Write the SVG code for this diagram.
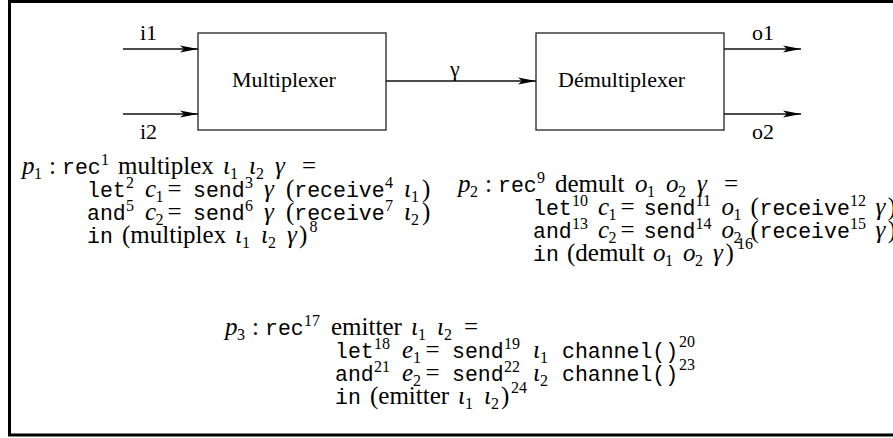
<svg xmlns="http://www.w3.org/2000/svg" width="893" height="438" viewBox="0 0 893 438">
  <style>
    .frame { fill: none; stroke: #000; stroke-width: 3; }
    .box { fill: #fff; stroke: #222; stroke-width: 1.3; }
    .wire { fill: none; stroke: #111; stroke-width: 1.3; }
    .lbl { font-family: 'Liberation Serif', 'DejaVu Serif', serif; font-size: 22px; fill: #000; }
    .rm { font-family: 'Liberation Serif', 'DejaVu Serif', serif; font-size: 25px; fill: #000; }
    .it { font-style: italic; }
    .tt { font-family: 'Liberation Mono', 'DejaVu Sans Mono', monospace; font-size: 21.5px; }
    .sc { font-size: 16px; }
  </style>
  <defs>
    <marker id="arrow" markerUnits="userSpaceOnUse" markerWidth="20" markerHeight="10" refX="18" refY="4" orient="auto">
      <path d="M0,0.5 L18,4 L0,7.5 L4,4 Z" fill="#000"/>
    </marker>
  </defs>

  <!-- outer frame (open on the right) -->
  <path class="frame" d="M893,1.5 H9.5 V435 H893"/>

  <!-- block diagram -->
  <g id="multiplexer">
    <rect class="box" x="198" y="33" width="188" height="97"/>
    <text class="lbl" x="232" y="87">Multiplexer</text>
  </g>
  <g id="demultiplexer">
    <rect class="box" x="536" y="33" width="188" height="97"/>
    <text class="lbl" x="558" y="87">Démultiplexer</text>
  </g>

  <g id="connectors">
    <line class="wire" x1="123" y1="49" x2="198" y2="49" marker-end="url(#arrow)"/>
    <line class="wire" x1="123" y1="114" x2="198" y2="114" marker-end="url(#arrow)"/>
    <line class="wire" x1="386" y1="81" x2="536" y2="81" marker-end="url(#arrow)"/>
    <line class="wire" x1="724" y1="49" x2="801" y2="49" marker-end="url(#arrow)"/>
    <line class="wire" x1="724" y1="114" x2="801" y2="114" marker-end="url(#arrow)"/>
    <text class="lbl" x="140" y="40">i1</text>
    <text class="lbl" x="140" y="139">i2</text>
    <text class="lbl" x="450" y="76">γ</text>
    <text class="lbl" x="752" y="40">o1</text>
    <text class="lbl" x="752" y="139">o2</text>
  </g>

  <!-- p1 : multiplex -->
  <g id="p1">
    <text class="rm"><tspan class="it" x="22" y="174">p</tspan><tspan class="sc" x="34" y="179">1</tspan><tspan x="49" y="174">:</tspan><tspan class="tt" x="62" y="174">rec</tspan><tspan class="sc" x="101" y="165">1</tspan><tspan x="118" y="174">multiplex</tspan><tspan class="it" x="223" y="174">ι</tspan><tspan class="sc" x="230" y="179">1</tspan><tspan class="it" x="249" y="174">ι</tspan><tspan class="sc" x="256" y="179">2</tspan><tspan class="it" x="275" y="174">γ</tspan><tspan x="302" y="174">=</tspan></text>
    <text class="rm"><tspan class="tt" x="87" y="197">let</tspan><tspan class="sc" x="126" y="188">2</tspan><tspan class="it" x="145" y="197">c</tspan><tspan class="sc" x="155.5" y="202">1</tspan><tspan x="167.5" y="197">=</tspan><tspan class="tt" x="193" y="197">send</tspan><tspan class="sc" x="245" y="188">3</tspan><tspan class="it" x="264" y="197">γ</tspan><tspan x="286" y="197">(</tspan><tspan class="tt" x="294.3" y="197">receive</tspan><tspan class="sc" x="385" y="188">4</tspan><tspan class="it" x="404" y="197">ι</tspan><tspan class="sc" x="411" y="202">1</tspan><tspan x="422" y="197">)</tspan></text>
    <text class="rm"><tspan class="tt" x="87" y="220">and</tspan><tspan class="sc" x="126" y="211">5</tspan><tspan class="it" x="145" y="220">c</tspan><tspan class="sc" x="155.5" y="225">2</tspan><tspan x="167.5" y="220">=</tspan><tspan class="tt" x="193" y="220">send</tspan><tspan class="sc" x="245" y="211">6</tspan><tspan class="it" x="264" y="220">γ</tspan><tspan x="286" y="220">(</tspan><tspan class="tt" x="294.3" y="220">receive</tspan><tspan class="sc" x="385" y="211">7</tspan><tspan class="it" x="404" y="220">ι</tspan><tspan class="sc" x="411" y="225">2</tspan><tspan x="422" y="220">)</tspan></text>
    <text class="rm"><tspan class="tt" x="87" y="243">in</tspan><tspan x="122" y="243">(multiplex</tspan><tspan class="it" x="235" y="243">ι</tspan><tspan class="sc" x="242" y="248">1</tspan><tspan class="it" x="261" y="243">ι</tspan><tspan class="sc" x="268" y="248">2</tspan><tspan class="it" x="287" y="243">γ</tspan><tspan x="299" y="243">)</tspan><tspan class="sc" x="309.5" y="232">8</tspan></text>
  </g>

  <!-- p2 : demult -->
  <g id="p2">
    <text class="rm"><tspan class="it" x="458" y="192">p</tspan><tspan class="sc" x="470" y="197">2</tspan><tspan x="485" y="192">:</tspan><tspan class="tt" x="498" y="192">rec</tspan><tspan class="sc" x="537" y="183">9</tspan><tspan x="555" y="192">demult</tspan><tspan class="it" x="635" y="192">o</tspan><tspan class="sc" x="647" y="197">1</tspan><tspan class="it" x="666" y="192">o</tspan><tspan class="sc" x="678" y="197">2</tspan><tspan class="it" x="697" y="192">γ</tspan><tspan x="724" y="192">=</tspan></text>
    <text class="rm"><tspan class="tt" x="533" y="215">let</tspan><tspan class="sc" x="572" y="206">10</tspan><tspan class="it" x="598" y="215">c</tspan><tspan class="sc" x="608.5" y="220">1</tspan><tspan x="620.5" y="215">=</tspan><tspan class="tt" x="643.7" y="215">send</tspan><tspan class="sc" x="695.5" y="206">11</tspan><tspan class="it" x="721.4" y="215">o</tspan><tspan class="sc" x="733.4" y="220">1</tspan><tspan x="750.5" y="215">(</tspan><tspan class="tt" x="759.5" y="215">receive</tspan><tspan class="sc" x="850" y="206">12</tspan><tspan class="it" x="875.5" y="215">γ</tspan><tspan x="887.7" y="215">)</tspan></text>
    <text class="rm"><tspan class="tt" x="533" y="238">and</tspan><tspan class="sc" x="572" y="229">13</tspan><tspan class="it" x="598" y="238">c</tspan><tspan class="sc" x="608.5" y="243">2</tspan><tspan x="620.5" y="238">=</tspan><tspan class="tt" x="643.7" y="238">send</tspan><tspan class="sc" x="695.5" y="229">14</tspan><tspan class="it" x="721.4" y="238">o</tspan><tspan class="sc" x="733.4" y="243">2</tspan><tspan x="750.5" y="238">(</tspan><tspan class="tt" x="759.5" y="238">receive</tspan><tspan class="sc" x="850" y="229">15</tspan><tspan class="it" x="875.5" y="238">γ</tspan><tspan x="887.7" y="238">)</tspan></text>
    <text class="rm"><tspan class="tt" x="533" y="261">in</tspan><tspan x="567" y="261">(demult</tspan><tspan class="it" x="653" y="261">o</tspan><tspan class="sc" x="665" y="266">1</tspan><tspan class="it" x="683" y="261">o</tspan><tspan class="sc" x="695" y="266">2</tspan><tspan class="it" x="713" y="261">γ</tspan><tspan x="725.5" y="261">)</tspan><tspan class="sc" x="737" y="249">16</tspan></text>
  </g>

  <!-- p3 : emitter -->
  <g id="p3">
    <text class="rm"><tspan class="it" x="225" y="335">p</tspan><tspan class="sc" x="237" y="340">3</tspan><tspan x="252" y="335">:</tspan><tspan class="tt" x="265" y="335">rec</tspan><tspan class="sc" x="304" y="326">17</tspan><tspan x="331" y="335">emitter</tspan><tspan class="it" x="411" y="335">ι</tspan><tspan class="sc" x="418" y="340">1</tspan><tspan class="it" x="437" y="335">ι</tspan><tspan class="sc" x="444" y="340">2</tspan><tspan x="464" y="335">=</tspan></text>
    <text class="rm"><tspan class="tt" x="335" y="358">let</tspan><tspan class="sc" x="374" y="349">18</tspan><tspan class="it" x="402" y="358">e</tspan><tspan class="sc" x="413" y="363">1</tspan><tspan x="425.5" y="358">=</tspan><tspan class="tt" x="452" y="358">send</tspan><tspan class="sc" x="504" y="349">19</tspan><tspan class="it" x="533" y="358">ι</tspan><tspan class="sc" x="540" y="363">1</tspan><tspan class="tt" x="562" y="358">channel()</tspan><tspan class="sc" x="679" y="347">20</tspan></text>
    <text class="rm"><tspan class="tt" x="335" y="381">and</tspan><tspan class="sc" x="374" y="372">21</tspan><tspan class="it" x="402" y="381">e</tspan><tspan class="sc" x="413" y="386">2</tspan><tspan x="425.5" y="381">=</tspan><tspan class="tt" x="452" y="381">send</tspan><tspan class="sc" x="504" y="372">22</tspan><tspan class="it" x="533" y="381">ι</tspan><tspan class="sc" x="540" y="386">2</tspan><tspan class="tt" x="562" y="381">channel()</tspan><tspan class="sc" x="679" y="370">23</tspan></text>
    <text class="rm"><tspan class="tt" x="335" y="404">in</tspan><tspan x="370" y="404">(emitter</tspan><tspan class="it" x="458" y="404">ι</tspan><tspan class="sc" x="465" y="409">1</tspan><tspan class="it" x="484" y="404">ι</tspan><tspan class="sc" x="491" y="409">2</tspan><tspan x="501" y="404">)</tspan><tspan class="sc" x="511" y="393">24</tspan></text>
  </g>
</svg>
